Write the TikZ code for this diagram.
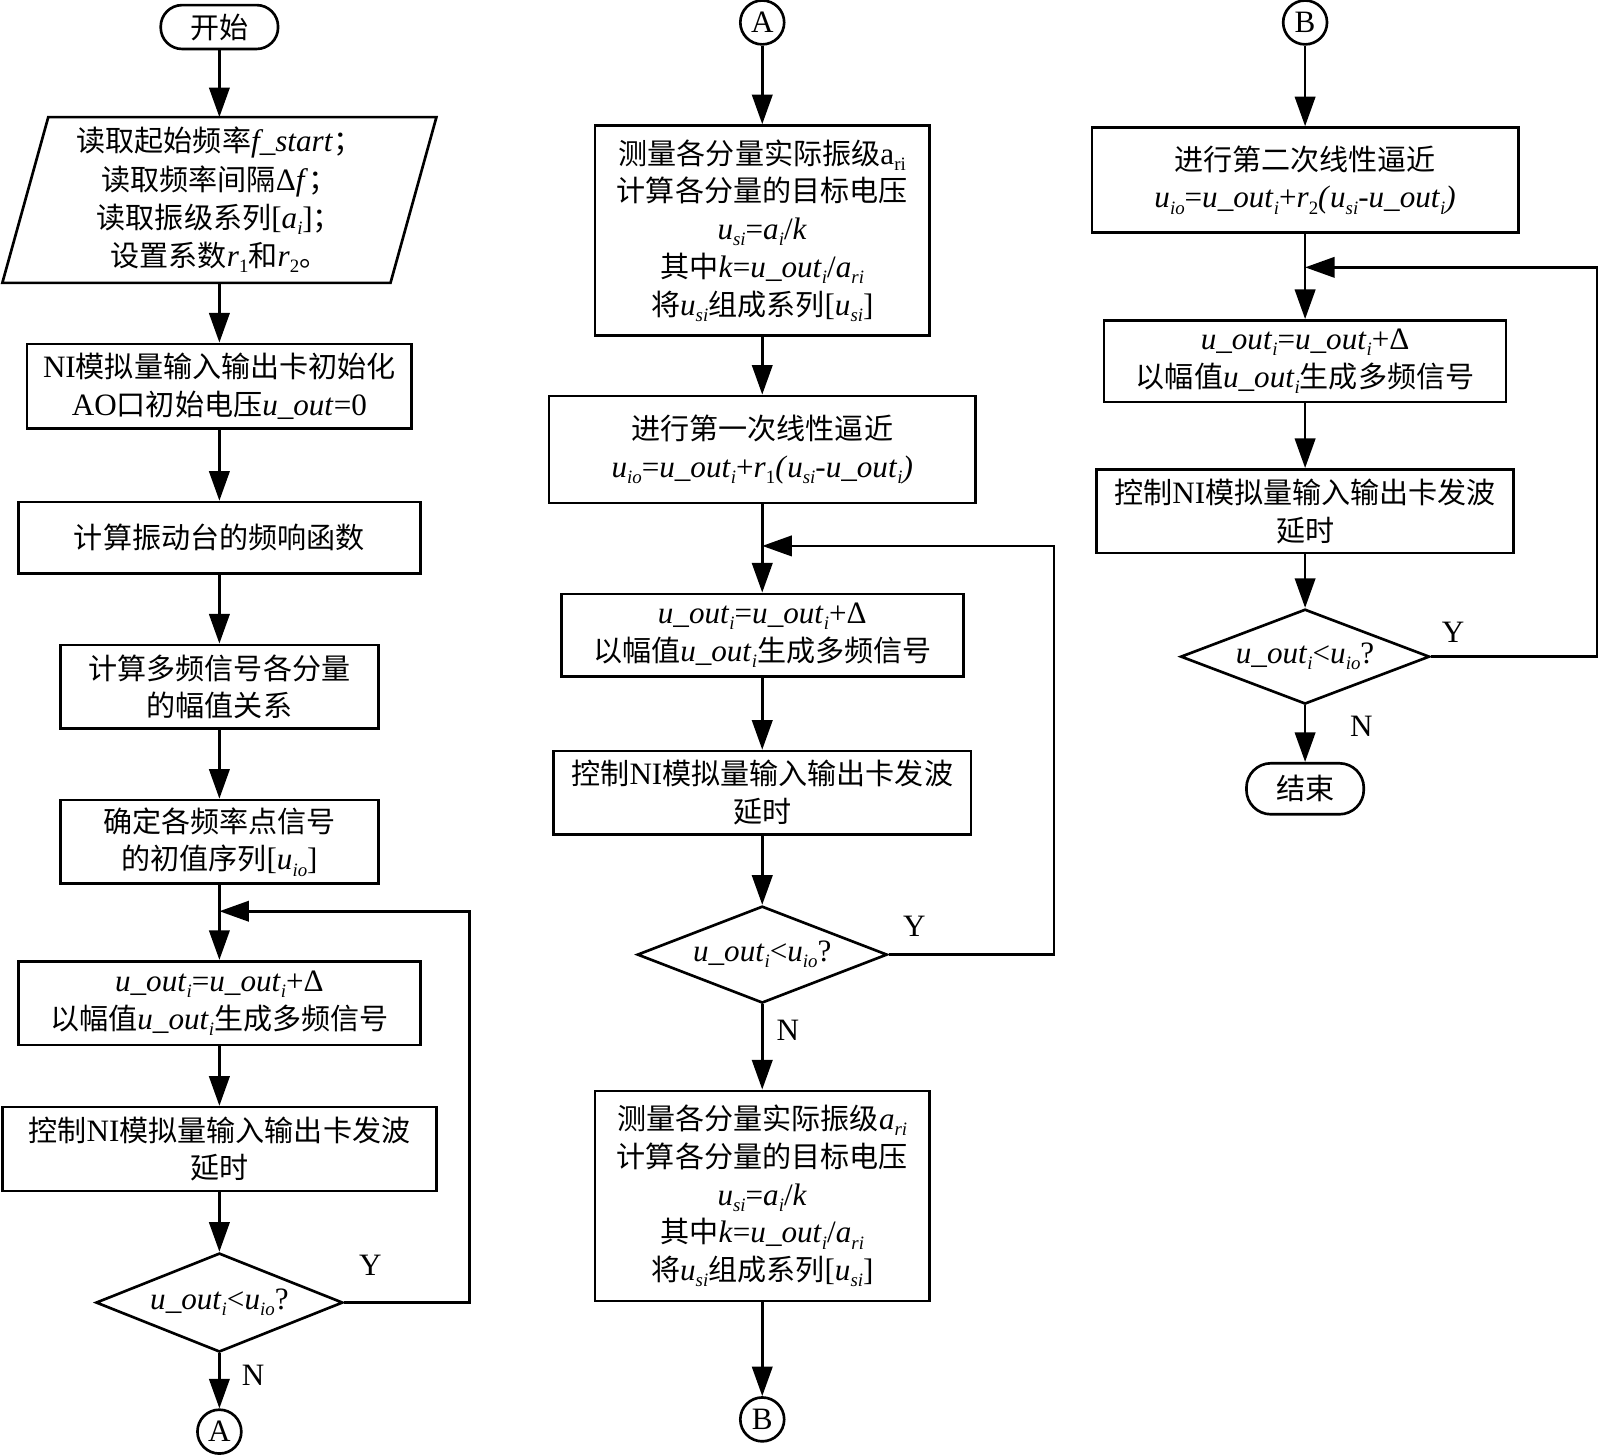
\documentclass[tikz,border=0pt]{standalone}
\usepackage{fontspec}
\setmainfont{Liberation Serif}
\newfontfamily\cjkfont{Noto Sans CJK SC}
\usetikzlibrary{shapes.geometric,arrows.meta}
\newcommand\zh[1]{{\cjkfont\fontsize{28.5}{37}\selectfont #1}}
\newcommand\sbs[1]{\raisebox{-0.2em}{\fontsize{18.5}{18.5}\selectfont #1}}
\newcommand\uouti{\textit{u\_out}\sbs{\textit{i}}}
\newcommand\vsub[2]{\textit{#1}\sbs{\textit{#2}}}
\tikzset{
  base/.style={draw, line width=2.6pt, align=center, inner sep=0pt, font=\fontsize{30.5}{37}\selectfont},
  proc/.style={base, rectangle},
  term/.style={base, rectangle, rounded corners=21pt},
  conn/.style={base, circle, minimum size=43pt},
  dec/.style={base, diamond, aspect=2.5},
  flow/.style={line width=2.6pt, -{Triangle[length=29pt,width=20pt]}},
  lbl/.style={inner sep=0pt, font=\fontsize{30.5}{30}\selectfont},
}
\begin{document}
\begin{tikzpicture}[x=1pt,y=-1pt]
\useasboundingbox (0,0) rectangle (1568,1426);
% ---------------- column 1 ----------------
\node[term, minimum width=115pt, minimum height=43pt] (start) at (215,26.5) {\zh{开始}};
\node[inner sep=0pt, align=center, minimum width=380pt, minimum height=162pt, font=\fontsize{30.5}{37.5}\selectfont] (par) at (215,196)
  {\zh{读取起始频率}\textit{f\_start}\zh{；}\\
   \zh{读取频率间隔}Δ\textit{f}\zh{；}\\
   \zh{读取振级系列}[\vsub{a}{i}]\zh{；}\\
   \zh{设置系数}\textit{r}\sbs{1}\zh{和}\textit{r}\sbs{2}\zh{。}};
\draw[line width=2.6pt, line join=miter] ([xshift=22.5pt]par.north west) -- ([xshift=22.5pt]par.north east)
  -- ([xshift=-22.5pt]par.south east) -- ([xshift=-22.5pt]par.south west) -- cycle;
\node[proc, minimum width=377pt, minimum height=83pt] (b1) at (215,378.5)
  {NI\zh{模拟量输入输出卡初始化}\\AO\zh{口初始电压}\textit{u\_out}=0};
\node[proc, minimum width=394pt, minimum height=70pt] (b2) at (215,527)
  {\zh{计算振动台的频响函数}};
\node[proc, minimum width=312pt, minimum height=82pt] (b3) at (215,673)
  {\zh{计算多频信号各分量}\\\zh{的幅值关系}};
\node[proc, minimum width=312pt, minimum height=82pt] (b4) at (215,825)
  {\zh{确定各频率点信号}\\\zh{的初值序列}[\vsub{u}{io}]};
\node[proc, minimum width=394pt, minimum height=82pt] (b5) at (215,983)
  {\uouti=\uouti+Δ\\\zh{以幅值}\uouti\zh{生成多频信号}};
\node[proc, minimum width=425pt, minimum height=82pt] (b6) at (215,1126)
  {\zh{控制}NI\zh{模拟量输入输出卡发波}\\\zh{延时}};
\node[dec, minimum width=242pt, minimum height=97pt] (d1) at (215,1276.5)
  {\uouti<\vsub{u}{io}?};
\node[conn] (A1) at (215,1403) {A};
\coordinate (j1) at (215,893);
\coordinate (r1) at (460,893);
\draw[flow] (start) -- (par.north);
\draw[flow] (par.south) -- (b1);
\draw[flow] (b1) -- (b2);
\draw[flow] (b2) -- (b3);
\draw[flow] (b3) -- (b4);
\draw[flow] (b4) -- (b5);
\draw[flow] (b5) -- (b6);
\draw[flow] (b6) -- (d1);
\draw[flow] (d1) -- (A1);
\draw[flow] (d1.east) -| (r1) -- (j1);
\node[lbl] (y1) at (363,1240) {Y};
\node[lbl] (n1) at (248,1348) {N};
% ---------------- column 2 ----------------
\node[conn] (A2) at (747,22) {A};
\node[proc, minimum width=328pt, minimum height=206pt] (c1) at (747,226)
  {\zh{测量各分量实际振级}a\sbs{ri}\\\zh{计算各分量的目标电压}\\
   \vsub{u}{si}=\vsub{a}{i}/\textit{k}\\
   \zh{其中}\textit{k}=\uouti/\vsub{a}{ri}\\
   \zh{将}\vsub{u}{si}\zh{组成系列}[\vsub{u}{si}]};
\node[proc, minimum width=418pt, minimum height=105pt] (c2) at (747,440.5)
  {\zh{进行第一次线性逼近}\\\vsub{u}{io}=\uouti+\textit{r}\sbs{1}\textit{(}\vsub{u}{si}-\uouti\textit{)}};
\node[proc, minimum width=394pt, minimum height=81pt] (c3) at (747,622.5)
  {\uouti=\uouti+Δ\\\zh{以幅值}\uouti\zh{生成多频信号}};
\node[proc, minimum width=409pt, minimum height=82pt] (c4) at (747,777)
  {\zh{控制}NI\zh{模拟量输入输出卡发波}\\\zh{延时}};
\node[dec, minimum width=245pt, minimum height=95pt] (d2) at (747,935.5)
  {\uouti<\vsub{u}{io}?};
\node[proc, minimum width=328pt, minimum height=206pt] (c5) at (747,1172)
  {\zh{测量各分量实际振级}\vsub{a}{ri}\\\zh{计算各分量的目标电压}\\
   \vsub{u}{si}=\vsub{a}{i}/\textit{k}\\
   \zh{其中}\textit{k}=\uouti/\vsub{a}{ri}\\
   \zh{将}\vsub{u}{si}\zh{组成系列}[\vsub{u}{si}]};
\node[conn] (B1) at (747,1391) {B};
\coordinate (j2) at (747,535);
\coordinate (r2) at (1033,535);
\draw[flow] (A2) -- (c1);
\draw[flow] (c1) -- (c2);
\draw[flow] (c2) -- (c3);
\draw[flow] (c3) -- (c4);
\draw[flow] (c4) -- (d2);
\draw[flow] (d2) -- (c5);
\draw[flow] (c5) -- (B1);
\draw[flow] (d2.east) -| (r2) -- (j2);
\node[lbl] (y2) at (896,908) {Y};
\node[lbl] (n2) at (772,1010) {N};
% ---------------- column 3 ----------------
\node[conn] (B2) at (1279,22) {B};
\node[proc, minimum width=418pt, minimum height=103pt] (e1) at (1279,176.5)
  {\zh{进行第二次线性逼近}\\\vsub{u}{io}=\uouti+\textit{r}\sbs{2}\textit{(}\vsub{u}{si}-\uouti\textit{)}};
\node[proc, minimum width=394pt, minimum height=80pt] (e2) at (1279,354)
  {\uouti=\uouti+Δ\\\zh{以幅值}\uouti\zh{生成多频信号}};
\node[proc, minimum width=409pt, minimum height=82pt] (e3) at (1279,501)
  {\zh{控制}NI\zh{模拟量输入输出卡发波}\\\zh{延时}};
\node[dec, minimum width=244pt, minimum height=93pt] (d3) at (1279,643.5)
  {\uouti<\vsub{u}{io}?};
\node[term, minimum width=115pt, minimum height=50pt, rounded corners=24pt] (end) at (1279,773)
  {\zh{结束}};
\coordinate (j3) at (1279,262);
\coordinate (r3) at (1565,262);
\draw[flow] (B2) -- (e1);
\draw[flow] (e1) -- (e2);
\draw[flow] (e2) -- (e3);
\draw[flow] (e3) -- (d3);
\draw[flow] (d3) -- (end);
\draw[flow] (d3.east) -| (r3) -- (j3);
\node[lbl] (y3) at (1424,620) {Y};
\node[lbl] (n3) at (1334,712) {N};
\end{tikzpicture}
\end{document}
